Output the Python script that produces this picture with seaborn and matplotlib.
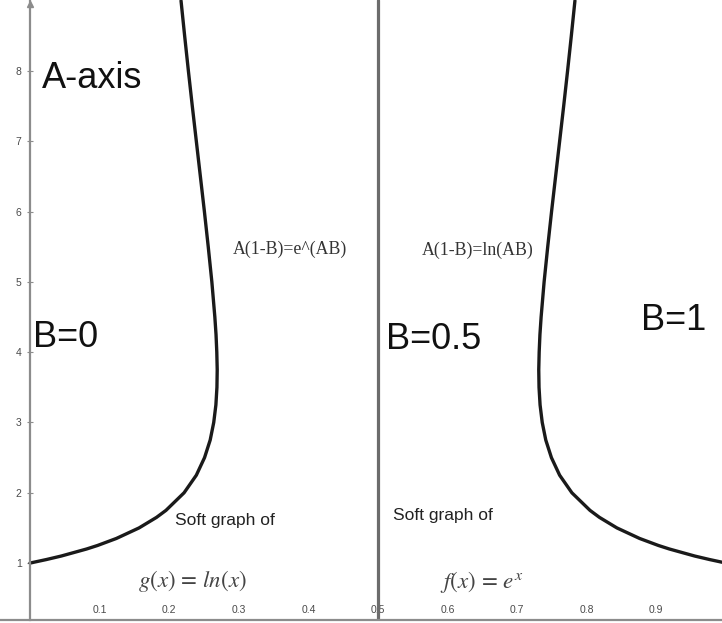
import numpy as np
import pandas as pd
import seaborn as sns
import matplotlib.pyplot as plt

# A-values sampled along both curves and the matching B positions
A_vals = [1.00, 1.05, 1.10, 1.20, 1.25, 1.35, 1.50, 1.65, 1.75, 2.00, 2.25, 2.50, 2.75,
          3.00, 3.25, 3.50, 3.75, 4.00, 4.25, 4.50, 5.00, 5.50, 6.00, 6.50, 7.00, 7.50,
          8.00, 8.50, 9.00]
# A(1-B) = e^(AB)
B_exp = [0.0000, 0.0235, 0.0449, 0.0813, 0.0970, 0.1241, 0.1567, 0.1818, 0.1954,
         0.2214, 0.2390, 0.2508, 0.2589, 0.2640, 0.2671, 0.2686, 0.2690, 0.2684,
         0.2673, 0.2656, 0.2613, 0.2561, 0.2506, 0.2448, 0.2390, 0.2332, 0.2276,
         0.2222, 0.2170]
# A(1-B) = ln(AB)
B_log = [1.0000, 0.9765, 0.9551, 0.9187, 0.9030, 0.8759, 0.8433, 0.8182, 0.8046,
         0.7786, 0.7610, 0.7492, 0.7411, 0.7360, 0.7329, 0.7314, 0.7310, 0.7316,
         0.7327, 0.7344, 0.7387, 0.7439, 0.7494, 0.7552, 0.7610, 0.7668, 0.7724,
         0.7778, 0.7830]

x_ticks = [0.1, 0.2, 0.3, 0.4, 0.5, 0.6, 0.7, 0.8, 0.9]
y_ticks = [1, 2, 3, 4, 5, 6, 7, 8]

curves = pd.concat([
    pd.DataFrame({"curve": "exp", "B": B_exp, "A": A_vals}),
    pd.DataFrame({"curve": "log", "B": B_log, "A": A_vals}),
])

sns.set_theme(style="white")
plt.rcParams["font.family"] = ["Liberation Sans", "DejaVu Sans"]
plt.rcParams["mathtext.fontset"] = "stix"

fig = plt.figure(figsize=(7.22, 6.23), dpi=100)
ax = fig.add_axes([0, 3 / 623, 1, 620 / 623])

sns.lineplot(data=curves, x="B", y="A", units="curve", estimator=None, sort=False,
             color="#1a1a1a", lw=2.4, ax=ax, solid_joinstyle="round",
             solid_capstyle="round")

ax.axvline(0.5, color="#6c6c6c", lw=2.3, zorder=1)

ax.set_xlim(-0.0431, 0.9943)
ax.set_ylim(0.19, 9.01)

axis_grey = "#8c8c8c"
for side in ("top", "right"):
    ax.spines[side].set_visible(False)
ax.spines["left"].set_position(("data", 0))
ax.spines["left"].set_color(axis_grey)
ax.spines["left"].set_linewidth(1.6)
ax.spines["bottom"].set_color(axis_grey)
ax.spines["bottom"].set_linewidth(1.6)
ax.plot([0], [8.95], marker="^", ms=5, color=axis_grey, clip_on=False)

ax.set_xticks(x_ticks)
ax.set_xticklabels([f"{v:.1f}" for v in x_ticks])
ax.set_yticks(y_ticks)
ax.set_yticklabels([str(v) for v in y_ticks])
ax.tick_params(axis="y", direction="inout", length=4, width=0.8, color=axis_grey,
               labelsize=7.5, labelcolor="#4a4a4a", pad=4, left=True)
ax.tick_params(axis="x", length=0, labelsize=7.5, labelcolor="#4a4a4a", pad=-11)
ax.set_xlabel("")
ax.set_ylabel("")

big = dict(fontsize=26, color="#111111", va="baseline", ha="left")
ax.text(0.017, 7.758, "A-axis", **big)
ax.text(0.004, 4.073, "B=0", **big)
ax.text(0.5115, 4.045, "B=0.5", **big)
ax.text(0.878, 4.315, "B=1", **big)

serif = dict(fontsize=12.8, color="#333333", va="baseline", ha="left",
             family=["Liberation Serif", "DejaVu Serif"])
ax.text(0.2917, 5.40, "A(1-B)=e^(AB)", **serif)
ax.text(0.5632, 5.38, "A(1-B)=ln(AB)", **serif)

small = dict(fontsize=12.5, color="#222222", va="center", ha="left")
ax.text(0.2083, 1.612, "Soft graph of", **small)
ax.text(0.5216, 1.683, "Soft graph of", **small)

ax.text(0.2328, 0.744, r"$g(x)\,=\,ln(x)$", fontsize=16.5, color="#444444",
        ha="center", va="center")
ax.text(0.6494, 0.73, r"$f(x)\,=\,e^x$", fontsize=16.5, color="#444444",
        ha="center", va="center")

fig.savefig("out.png", dpi=100)
